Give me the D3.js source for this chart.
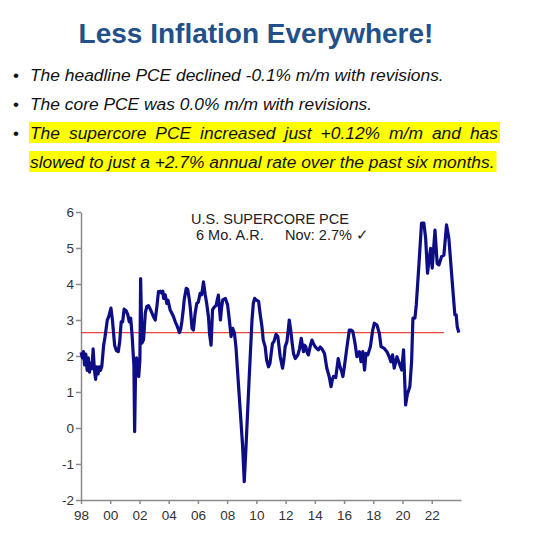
<!DOCTYPE html>
<html>
<head>
<meta charset="utf-8">
<script src="https://cdn.jsdelivr.net/npm/d3@7"></script>
<style>
  body { margin: 0; background: #fff; }
  svg { display: block; font-family: "Liberation Sans", Arial, sans-serif; }
</style>
</head>
<body>
<div id="chart"></div>
<script>
// supercore PCE, 6 mo. annualized rate
const years = [
  1998.0, 1998.1, 1998.17, 1998.25, 1998.33, 1998.42, 1998.5, 1998.58, 1998.67, 1998.75,
  1998.83, 1998.92, 1999.0, 1999.08, 1999.17, 1999.25, 1999.33, 1999.42, 1999.55, 1999.65,
  1999.8, 1999.9, 2000.05, 2000.15, 2000.3, 2000.42, 2000.55, 2000.65, 2000.75, 2000.85,
  2000.95, 2001.1, 2001.2, 2001.3, 2001.4, 2001.5, 2001.58, 2001.62, 2001.67, 2001.73,
  2001.8, 2001.88, 2001.95, 2002.03, 2002.08, 2002.17, 2002.28, 2002.4, 2002.5, 2002.62,
  2002.74, 2002.85, 2002.96, 2003.08, 2003.2, 2003.3, 2003.42, 2003.53, 2003.6, 2003.65,
  2003.76, 2003.87, 2003.95, 2004.1, 2004.2, 2004.33, 2004.45, 2004.55, 2004.65, 2004.74,
  2004.82, 2004.9, 2005.0, 2005.06, 2005.2, 2005.3, 2005.4, 2005.47, 2005.6, 2005.69,
  2005.81, 2005.92, 2006.03, 2006.15, 2006.26, 2006.38, 2006.5, 2006.6, 2006.72, 2006.8,
  2006.9, 2007.0, 2007.1, 2007.24, 2007.32, 2007.4, 2007.54, 2007.62, 2007.7, 2007.88,
  2008.03, 2008.15, 2008.27, 2008.38, 2008.5, 2008.6, 2008.83, 2009.06, 2009.17, 2009.29,
  2009.5, 2009.7, 2009.79, 2009.88, 2009.97, 2010.15, 2010.25, 2010.38, 2010.47, 2010.6,
  2010.7, 2010.83, 2010.93, 2011.0, 2011.1, 2011.2, 2011.34, 2011.47, 2011.63, 2011.79,
  2011.88, 2011.97, 2012.09, 2012.2, 2012.25, 2012.36, 2012.45, 2012.54, 2012.66, 2012.84,
  2012.95, 2013.07, 2013.22, 2013.3, 2013.38, 2013.47, 2013.56, 2013.7, 2013.8, 2013.9,
  2014.02, 2014.15, 2014.25, 2014.37, 2014.48, 2014.66, 2014.82, 2014.98, 2015.11, 2015.2,
  2015.27, 2015.43, 2015.6, 2015.72, 2015.84, 2015.92, 2016.02, 2016.2, 2016.36, 2016.48,
  2016.6, 2016.75, 2016.88, 2017.05, 2017.16, 2017.28, 2017.4, 2017.5, 2017.62, 2017.8,
  2017.96, 2018.07, 2018.25, 2018.41, 2018.53, 2018.75, 2018.93, 2019.09, 2019.2, 2019.32,
  2019.43, 2019.62, 2019.78, 2019.94, 2020.07, 2020.21, 2020.32, 2020.5, 2020.62, 2020.71,
  2020.85, 2020.94, 2021.12, 2021.3, 2021.46, 2021.58, 2021.71, 2021.8, 2021.92, 2022.03,
  2022.22, 2022.37, 2022.49, 2022.67, 2022.83, 2023.01, 2023.17, 2023.4, 2023.58, 2023.67,
  2023.74, 2023.85
];
const values = [
  2.1, 1.95, 2.12, 1.75, 2.05, 1.6, 1.95, 1.55, 1.8, 1.65,
  2.2, 1.6, 1.35, 1.7, 1.5, 1.7, 1.6, 1.7, 2.3, 2.55,
  3.0, 3.1, 3.33, 3.0, 2.3, 2.15, 2.12, 2.4, 2.95, 2.95,
  3.3, 3.25, 3.15, 2.95, 3.05, 2.55, 2.0, 1.75, -0.1, 1.5,
  1.95, 1.7, 1.43, 1.9, 4.15, 2.36, 2.45, 3.2, 3.37, 3.4,
  3.3, 3.2, 3.09, 3.0, 3.4, 3.79, 3.8, 3.74, 3.8, 3.6,
  3.7, 3.46, 3.55, 3.28, 3.2, 3.09, 2.95, 2.86, 2.75, 2.65,
  2.75, 2.95, 3.3, 3.56, 3.88, 3.85, 3.6, 3.37, 2.77, 2.72,
  3.19, 3.46, 3.5, 3.74, 3.7, 4.06, 3.7, 3.46, 3.09, 2.6,
  2.3, 3.28, 3.35, 3.4, 3.55, 3.69, 3.0, 3.35, 3.56, 3.6,
  3.42, 3.0, 2.54, 2.77, 2.63, 2.26, 0.87, -0.52, -1.49, -0.52,
  1.33, 3.0, 3.46, 3.6, 3.56, 3.52, 3.19, 2.82, 2.44, 2.26,
  1.89, 1.7, 1.8, 2.03, 2.35, 2.4, 2.6, 2.54, 1.98, 1.66,
  1.9, 2.26, 2.4, 2.8, 3.0, 2.68, 2.35, 2.07, 1.93, 2.03,
  2.2, 2.49, 2.12, 2.3, 2.26, 2.1, 2.03, 2.3, 2.44, 2.35,
  2.26, 2.2, 2.17, 2.25, 2.2, 2.07, 1.66, 1.43, 1.15, 1.35,
  1.43, 1.4, 1.93, 1.7, 1.56, 1.43, 1.7, 2.26, 2.72, 2.72,
  2.68, 2.35, 1.98, 2.12, 1.84, 2.12, 1.61, 2.07, 2.03, 2.26,
  2.72, 2.91, 2.86, 2.63, 2.26, 2.21, 2.12, 1.98, 1.84, 2.03,
  1.66, 1.98, 1.79, 1.61, 2.17, 0.64, 0.92, 1.15, 1.84, 3.05,
  3.05, 3.42, 4.53, 5.69, 5.69, 5.27, 4.3, 4.62, 4.99, 4.44,
  5.5, 4.57, 4.53, 4.76, 4.8, 5.64, 5.27, 4.06, 3.14, 3.14,
  2.82, 2.65
];
const avgLevel = 2.65;
const avgRange = [1998, 2022.83];
const yTicks = [-2, -1, 0, 1, 2, 3, 4, 5, 6];
const xTicks = [1998, 2000, 2002, 2004, 2006, 2008, 2010, 2012, 2014, 2016, 2018, 2020, 2022];

const bullets = [
  { text: "The headline PCE declined -0.1% m/m with revisions.", hl: false, justify: false },
  { text: "The core PCE was 0.0% m/m with revisions.", hl: false, justify: false },
  { text: "The supercore PCE increased just +0.12% m/m and has", hl: true, justify: true },
  { text: "slowed to just a +2.7% annual rate over the past six months.", hl: true, justify: false, cont: true }
];

const width = 560, height = 539;
const margin = { top: 212, right: 99, bottom: 39, left: 81 };

const svg = d3.select("#chart")
  .append("svg")
  .attr("width", width)
  .attr("height", height);

svg.append("rect").attr("width", width).attr("height", height).attr("fill", "#fff");

// title
svg.append("text")
  .attr("x", 256)
  .attr("y", 43)
  .attr("text-anchor", "middle")
  .attr("font-size", "28px")
  .attr("font-weight", "bold")
  .attr("fill", "#24508a")
  .text("Less Inflation Everywhere!");

// bullet list
const textLeft = 30, justifyRight = 498;
bullets.forEach((b, i) => {
  const baseY = 81 + i * 29;
  if (b.hl) {
    svg.append("rect")
      .attr("class", "hl" + i)
      .attr("x", 29)
      .attr("y", baseY - 17)
      .attr("height", 21)
      .attr("fill", "#ffff00");
  }
  if (!b.cont) {
    svg.append("text")
      .attr("x", 13)
      .attr("y", baseY)
      .attr("font-size", "17px")
      .attr("fill", "#111")
      .text("•");
  }
  const g = svg.append("g")
    .attr("font-size", "17.4px")
    .attr("font-style", "italic")
    .attr("fill", "#111");
  let lineEnd;
  if (b.justify) {
    const words = b.text.split(" ");
    const nodes = words.map(w => g.append("text").attr("y", baseY).text(w));
    const widths = nodes.map(n => n.node().getComputedTextLength());
    const gap = (justifyRight - textLeft - d3.sum(widths)) / (words.length - 1);
    let x = textLeft;
    nodes.forEach((n, k) => { n.attr("x", x); x += widths[k] + gap; });
    lineEnd = justifyRight;
  } else {
    const t = g.append("text").attr("x", textLeft).attr("y", baseY).text(b.text);
    lineEnd = textLeft + t.node().getComputedTextLength();
  }
  if (b.hl) svg.select(".hl" + i).attr("width", lineEnd - 29 + 2);
});

// chart
const x = d3.scaleLinear()
  .domain([1998, 2024])
  .range([margin.left, width - margin.right]);

const y = d3.scaleLinear()
  .domain([-2, 6])
  .range([height - margin.bottom, margin.top]);

const xAxis = svg.append("g")
  .attr("transform", `translate(0,${height - margin.bottom})`)
  .call(d3.axisBottom(x)
    .tickValues(xTicks)
    .tickSize(4)
    .tickSizeOuter(0)
    .tickPadding(6)
    .tickFormat(d => String(d % 100).padStart(2, "0")));

const yAxis = svg.append("g")
  .attr("transform", `translate(${margin.left},0)`)
  .call(d3.axisLeft(y)
    .tickValues(yTicks)
    .tickSize(5)
    .tickSizeOuter(0)
    .tickPadding(2)
    .tickFormat(d => String(d)));

[xAxis, yAxis].forEach(a => {
  a.select(".domain").attr("stroke", "#8a8a8a").attr("stroke-width", 1.5);
  a.selectAll(".tick line").attr("stroke", "#8a8a8a").attr("stroke-width", 1.5);
  a.selectAll(".tick text")
    .attr("fill", "#333")
    .attr("font-size", "13.5px")
    .style("font-family", "'Liberation Sans', Arial, sans-serif");
});

// average line
svg.append("line")
  .attr("x1", x(avgRange[0]))
  .attr("x2", x(avgRange[1]))
  .attr("y1", y(avgLevel))
  .attr("y2", y(avgLevel))
  .attr("stroke", "#e8453c")
  .attr("stroke-width", 1.3);

const series = years.map((yr, i) => ({ yr, v: values[i] }));

svg.append("path")
  .datum(series)
  .attr("fill", "none")
  .attr("stroke", "#0d0d85")
  .attr("stroke-width", 3.2)
  .attr("stroke-linejoin", "round")
  .attr("d", d3.line().x(d => x(d.yr)).y(d => y(d.v)));

// annotation
const note = svg.append("g")
  .attr("font-size", "14.5px")
  .attr("fill", "#222");
note.append("text").attr("x", 191).attr("y", 224).text("U.S. SUPERCORE PCE");
note.append("text").attr("x", 196).attr("y", 240).text("6 Mo. A.R.");
note.append("text").attr("x", 285).attr("y", 240).text("Nov: 2.7% \u2713");
</script>
</body>
</html>
